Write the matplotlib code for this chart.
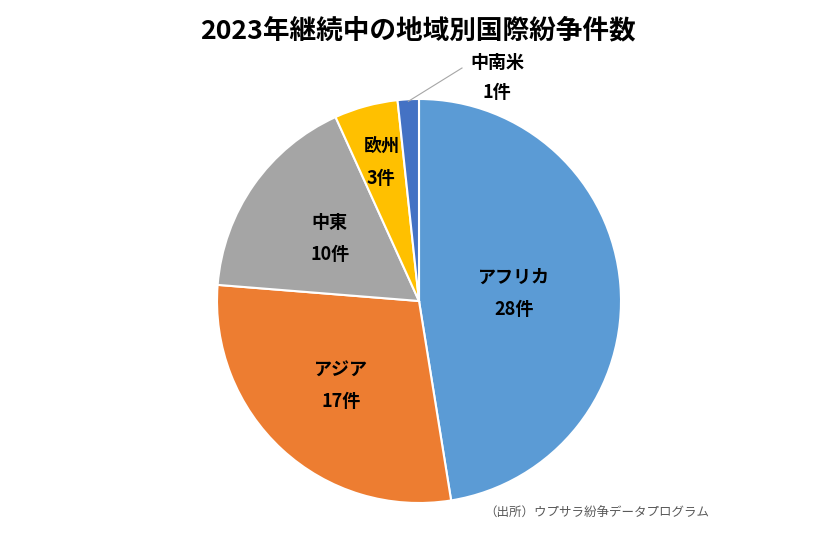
import matplotlib
matplotlib.use("Agg")
import matplotlib.pyplot as plt
import numpy as np

plt.rcParams['font.family'] = ['Noto Sans CJK JP', 'DejaVu Sans']

categories = ["アフリカ", "アジア", "中東", "欧州", "中南米"]
counts = [28, 17, 10, 3, 1]
colors = ["#5B9BD5", "#ED7D31", "#A5A5A5", "#FFC000", "#4472C4"]
label_dist = [0.47, 0.57, 0.54, 0.71]
title = "2023年継続中の地域別国際紛争件数"
source = "（出所）ウプサラ紛争データプログラム"

W, H = 839, 548
fig = plt.figure(figsize=(W / 100, H / 100), dpi=100)
cx, cy, r = 419, 301, 202
ax = fig.add_axes([(cx - r) / W, (H - cy - r) / H, 2 * r / W, 2 * r / H])
wedges, _ = ax.pie(counts, colors=colors, startangle=90, counterclock=False,
                   radius=1, wedgeprops=dict(edgecolor="white", linewidth=1.5))
ax.set_xlim(-1, 1)
ax.set_ylim(-1, 1)
ax.set_aspect("equal")
ax.axis("off")

for i, (w, cat, n) in enumerate(zip(wedges, categories, counts)):
    mid = np.deg2rad((w.theta1 + w.theta2) / 2)
    if i < len(label_dist):
        d = label_dist[i]
        x, y = d * np.cos(mid), d * np.sin(mid)
        ax.text(x, y + 0.08, cat, ha="center", va="center", fontsize=13, fontweight="bold", color="#000000")
        ax.text(x, y - 0.08, f"{n}件", ha="center", va="center", fontsize=13, fontweight="bold", color="#000000")
    else:
        x0, y0 = 0.99 * np.cos(mid), 0.99 * np.sin(mid)
        lx, ly = (462 - cx) / r, (cy - 68) / r
        ax.plot([x0, lx], [y0, ly], color="#A6A6A6", lw=0.8, clip_on=False)
        tx = (497 - cx) / r
        ax.text(tx, (cy - 63) / r, cat, ha="center", va="center", fontsize=13, fontweight="bold", clip_on=False)
        ax.text(tx, (cy - 93) / r, f"{n}件", ha="center", va="center", fontsize=13, fontweight="bold", clip_on=False)

fig.text(418 / W, 1 - 31 / H, title, ha="center", va="center", fontsize=19.2, fontweight="bold")
fig.text(597 / W, 1 - 513 / H, source, ha="center", va="center", fontsize=9, color="#595959")

fig.savefig("out.png", dpi=100)
